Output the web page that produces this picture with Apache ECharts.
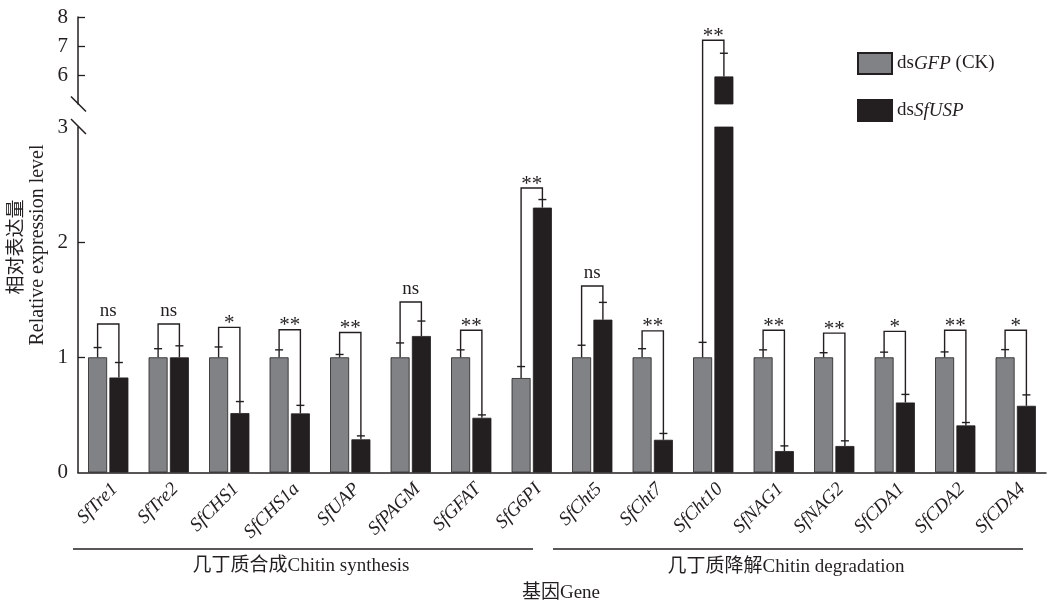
<!DOCTYPE html>
<html><head><meta charset="utf-8">
<script src="https://cdn.jsdelivr.net/npm/echarts@6/dist/echarts.min.js"></script>
<style>html,body{margin:0;padding:0;background:#fff}#c{width:1047px;height:602px}</style>
</head><body><div id="c"></div>
<script>
// ---------------- data ----------------
const categories = ['SfTre1','SfTre2','SfCHS1','SfCHS1a','SfUAP','SfPAGM','SfGFAT','SfG6PI',
                    'SfCht5','SfCht7','SfCht10','SfNAG1','SfNAG2','SfCDA1','SfCDA2','SfCDA4'];
const gfpMean = [1,1,1,1,1,1,1,0.82,1,1,1,1,1,1,1,1];
const gfpErr  = [0.085,0.075,0.09,0.065,0.025,0.125,0.065,0.10,0.105,0.075,0.13,0.065,0.04,0.045,0.047,0.067];
const uspMean = [0.825,1.0,0.516,0.513,0.288,1.185,0.475,2.30,1.327,0.284,5.95,0.186,0.23,0.608,0.409,0.579];
const uspErr  = [0.13,0.10,0.10,0.07,0.03,0.13,0.025,0.07,0.15,0.055,0.8,0.045,0.045,0.07,0.025,0.095];
const sigLabel = ['ns','ns','*','**','**','ns','**','**','ns','**','**','**','**','*','**','*'];
const bracketLevel = [1.29,1.29,1.26,1.24,1.215,1.48,1.235,2.47,1.62,1.23,7.2,1.235,1.21,1.225,1.235,1.235];
const seriesNames = ['dsGFP (CK)','dsSfUSP'];
const namePrefix = ['ds','ds'];
const nameItalic = ['GFP','SfUSP'];
const nameSuffix = [' (CK)',''];
const lowerTicks = [0,1,2,3];
const upperTicks = [6,7,8];
const groupLabels = ['几丁质合成Chitin synthesis','几丁质降解Chitin degradation'];
const xTitle = '基因Gene';
const yTitleCn = '相对表达量';
const yTitleEn = 'Relative expression level';

// ---------------- layout / style ----------------
const GRID_LEFT = 78, GRID_RIGHT = 1;
const LOWER_TOP = 127, LOWER_H = 345.5;
const UPPER_TOP = 17, UPPER_H = 87;
const UPPER_BOTTOM_Y = UPPER_TOP + UPPER_H;
const LOWER_MIN = 0, LOWER_MAX = 3, UPPER_MIN = 5, UPPER_MAX = 8;
const BAR_W = 19, BAR_GAP_PX = 2.3;
const OFF = (BAR_W + BAR_GAP_PX) / 2;
const CAP = 4;
const INK = '#231f20', GRAY = '#808285';
const SERIF = '"Liberation Serif","Times New Roman","Noto Sans CJK SC",serif';
const LW = 1.4;

function lineEl(x1,y1,x2,y2){
  return {type:'line', shape:{x1,y1,x2,y2}, style:{stroke:INK, lineWidth:LW}};
}
function errBar(x, y0, y1){
  return [lineEl(x,y0,x,y1), lineEl(x-CAP,y1,x+CAP,y1)];
}
function sigText(cx, yb, txt){
  const isNs = txt === 'ns';
  return {type:'text', x:cx, y: yb - (isNs ? 13 : 4),
    style:{text: txt, fill:INK, align:'center', verticalAlign:'middle',
      font: (isNs ? '19px ' : '21px ') + SERIF}};
}
function bracket(xl, yl, xr, yr, yb){
  return {type:'polyline', shape:{points:[[xl,yl],[xl,yb],[xr,yb],[xr,yr]]},
          style:{stroke:INK, lineWidth:LW, fill:null}};
}

function renderLower(params, api){
  const i = api.value(0);
  const cx = api.coord([i, 0])[0];
  const y = v => api.coord([i, v])[1];
  const children = [];
  const gx = cx - OFF, bx = cx + OFF;
  const gTop = y(gfpMean[i] + gfpErr[i]);
  children.push(...errBar(gx, y(gfpMean[i]), gTop));
  if (uspMean[i] <= LOWER_MAX) {
    const bTop = y(uspMean[i] + uspErr[i]);
    children.push(...errBar(bx, y(uspMean[i]), bTop));
    const yb = y(bracketLevel[i]);
    children.push(bracket(gx, gTop, bx, bTop, yb));
    children.push(sigText(cx, yb, sigLabel[i]));
  } else {
    children.push(lineEl(gx, gTop, gx, UPPER_BOTTOM_Y));
  }
  return {type:'group', children};
}
function renderUpper(params, api){
  const i = api.value(0);
  const cx = api.coord([i, UPPER_MIN])[0];
  const y = v => api.coord([i, v])[1];
  const gx = cx - OFF, bx = cx + OFF;
  const bTop = y(uspMean[i] + uspErr[i]);
  const yb = y(bracketLevel[i]);
  return {type:'group', children:[
    ...errBar(bx, y(uspMean[i]), bTop),
    bracket(gx, UPPER_BOTTOM_Y, bx, bTop, yb),
    sigText(cx, yb, sigLabel[i])
  ]};
}

const axisLineStyle = {color:INK, width:1.5};
const barStyle = c => ({color:c, borderColor:INK, borderWidth:0.8});
const barGap = (BAR_GAP_PX/BAR_W*100)+'%';

const option = {
  animation:false,
  backgroundColor:'#fff',
  grid:[
    {left:GRID_LEFT, right:GRID_RIGHT, top:LOWER_TOP, height:LOWER_H},
    {left:GRID_LEFT, right:GRID_RIGHT, top:UPPER_TOP, height:UPPER_H}
  ],
  legend:{
    data:seriesNames, orient:'vertical', left:852, top:47,
    itemWidth:34, itemHeight:21, itemGap:24, icon:'rect',
    selectedMode:false,
    formatter: name => { const k = seriesNames.indexOf(name);
      return '{n|'+namePrefix[k]+'}{i|'+nameItalic[k]+'}' + (nameSuffix[k] ? '{n|'+nameSuffix[k]+'}' : ''); },
    textStyle:{color:INK, fontFamily:SERIF, fontSize:19,
      rich:{n:{fontFamily:SERIF,fontSize:19,color:INK}, i:{fontFamily:SERIF,fontSize:19,color:INK,fontStyle:'italic'}}}
  },
  xAxis:[
    {gridIndex:0, type:'category', data:categories,
     axisLine:{show:true, lineStyle:axisLineStyle}, axisTick:{show:false},
     axisLabel:{interval:0, rotate:45, margin:7, verticalAlign:'top', fontFamily:SERIF, fontStyle:'italic', fontSize:19, color:INK}},
    {gridIndex:1, type:'category', data:categories, show:false}
  ],
  yAxis:[
    {gridIndex:0, type:'value', min:LOWER_MIN, max:LOWER_MAX, interval:1,
     axisLine:{show:true, lineStyle:axisLineStyle},
     axisTick:{show:true, inside:true, length:7, lineStyle:{color:INK, width:1.3}, customValues:[1,2]},
     axisLabel:{fontFamily:SERIF, fontSize:21, color:INK, margin:10, customValues:lowerTicks},
     splitLine:{show:false}},
    {gridIndex:1, type:'value', min:UPPER_MIN, max:UPPER_MAX, interval:1,
     axisLine:{show:true, lineStyle:axisLineStyle},
     axisTick:{show:true, inside:true, length:7, lineStyle:{color:INK, width:1.3}, customValues:upperTicks},
     axisLabel:{fontFamily:SERIF, fontSize:21, color:INK, margin:10, customValues:upperTicks},
     splitLine:{show:false}}
  ],
  series:[
    {name:seriesNames[0], type:'bar', xAxisIndex:0, yAxisIndex:0, data:gfpMean,
     barWidth:BAR_W, barGap, itemStyle:barStyle(GRAY)},
    {name:seriesNames[1], type:'bar', xAxisIndex:0, yAxisIndex:0, data:uspMean,
     barWidth:BAR_W, barGap, itemStyle:barStyle(INK)},
    {name:seriesNames[0], type:'bar', xAxisIndex:1, yAxisIndex:1,
     data:gfpMean.map(() => '-'), barWidth:BAR_W, barGap, itemStyle:barStyle(GRAY)},
    {name:seriesNames[1], type:'bar', xAxisIndex:1, yAxisIndex:1,
     data:uspMean.map(v => v > LOWER_MAX ? v : '-'), barWidth:BAR_W, barGap, itemStyle:barStyle(INK)},
    {type:'custom', xAxisIndex:0, yAxisIndex:0, renderItem:renderLower, z:5,
     data:categories.map((c,i) => [i, 0]), encode:{x:0, y:1}, silent:true},
    {type:'custom', xAxisIndex:1, yAxisIndex:1, renderItem:renderUpper, z:5,
     data:categories.map((c,i) => [i, UPPER_MIN]).filter((d,i) => uspMean[i] > LOWER_MAX), encode:{x:0, y:1}, silent:true}
  ],
  graphic:[
    // axis break marks
    {type:'line', shape:{x1:GRID_LEFT-7, y1:UPPER_BOTTOM_Y-7.5, x2:GRID_LEFT+8, y2:UPPER_BOTTOM_Y+7.5}, style:{stroke:INK, lineWidth:1.5}},
    {type:'line', shape:{x1:GRID_LEFT-7, y1:LOWER_TOP-8, x2:GRID_LEFT+8, y2:LOWER_TOP+7}, style:{stroke:INK, lineWidth:1.5}},
    // y title
    {type:'text', x:15, y:247, rotation:Math.PI/2,
     style:{text:yTitleCn, font:'19px "Noto Sans CJK SC",sans-serif', fill:INK, align:'center', verticalAlign:'middle'}},
    {type:'text', x:38, y:245, rotation:Math.PI/2,
     style:{text:yTitleEn, font:'20px '+SERIF, fill:INK, align:'center', verticalAlign:'middle'}},
    // group lines & labels
    {type:'line', shape:{x1:73, y1:549, x2:533, y2:549}, style:{stroke:INK, lineWidth:1.5}},
    {type:'line', shape:{x1:553, y1:549, x2:1023, y2:549}, style:{stroke:INK, lineWidth:1.5}},
    {type:'text', x:301, y:566, style:{text:groupLabels[0], font:'19px '+SERIF, fill:INK, align:'center', verticalAlign:'middle'}},
    {type:'text', x:786, y:567, style:{text:groupLabels[1], font:'19px '+SERIF, fill:INK, align:'center', verticalAlign:'middle'}},
    {type:'text', x:561, y:593, style:{text:xTitle, font:'19px '+SERIF, fill:INK, align:'center', verticalAlign:'middle'}}
  ]
};
const chart = echarts.init(document.getElementById('c'), null, {renderer:'canvas'});
chart.setOption(option);
</script>
</body></html>
